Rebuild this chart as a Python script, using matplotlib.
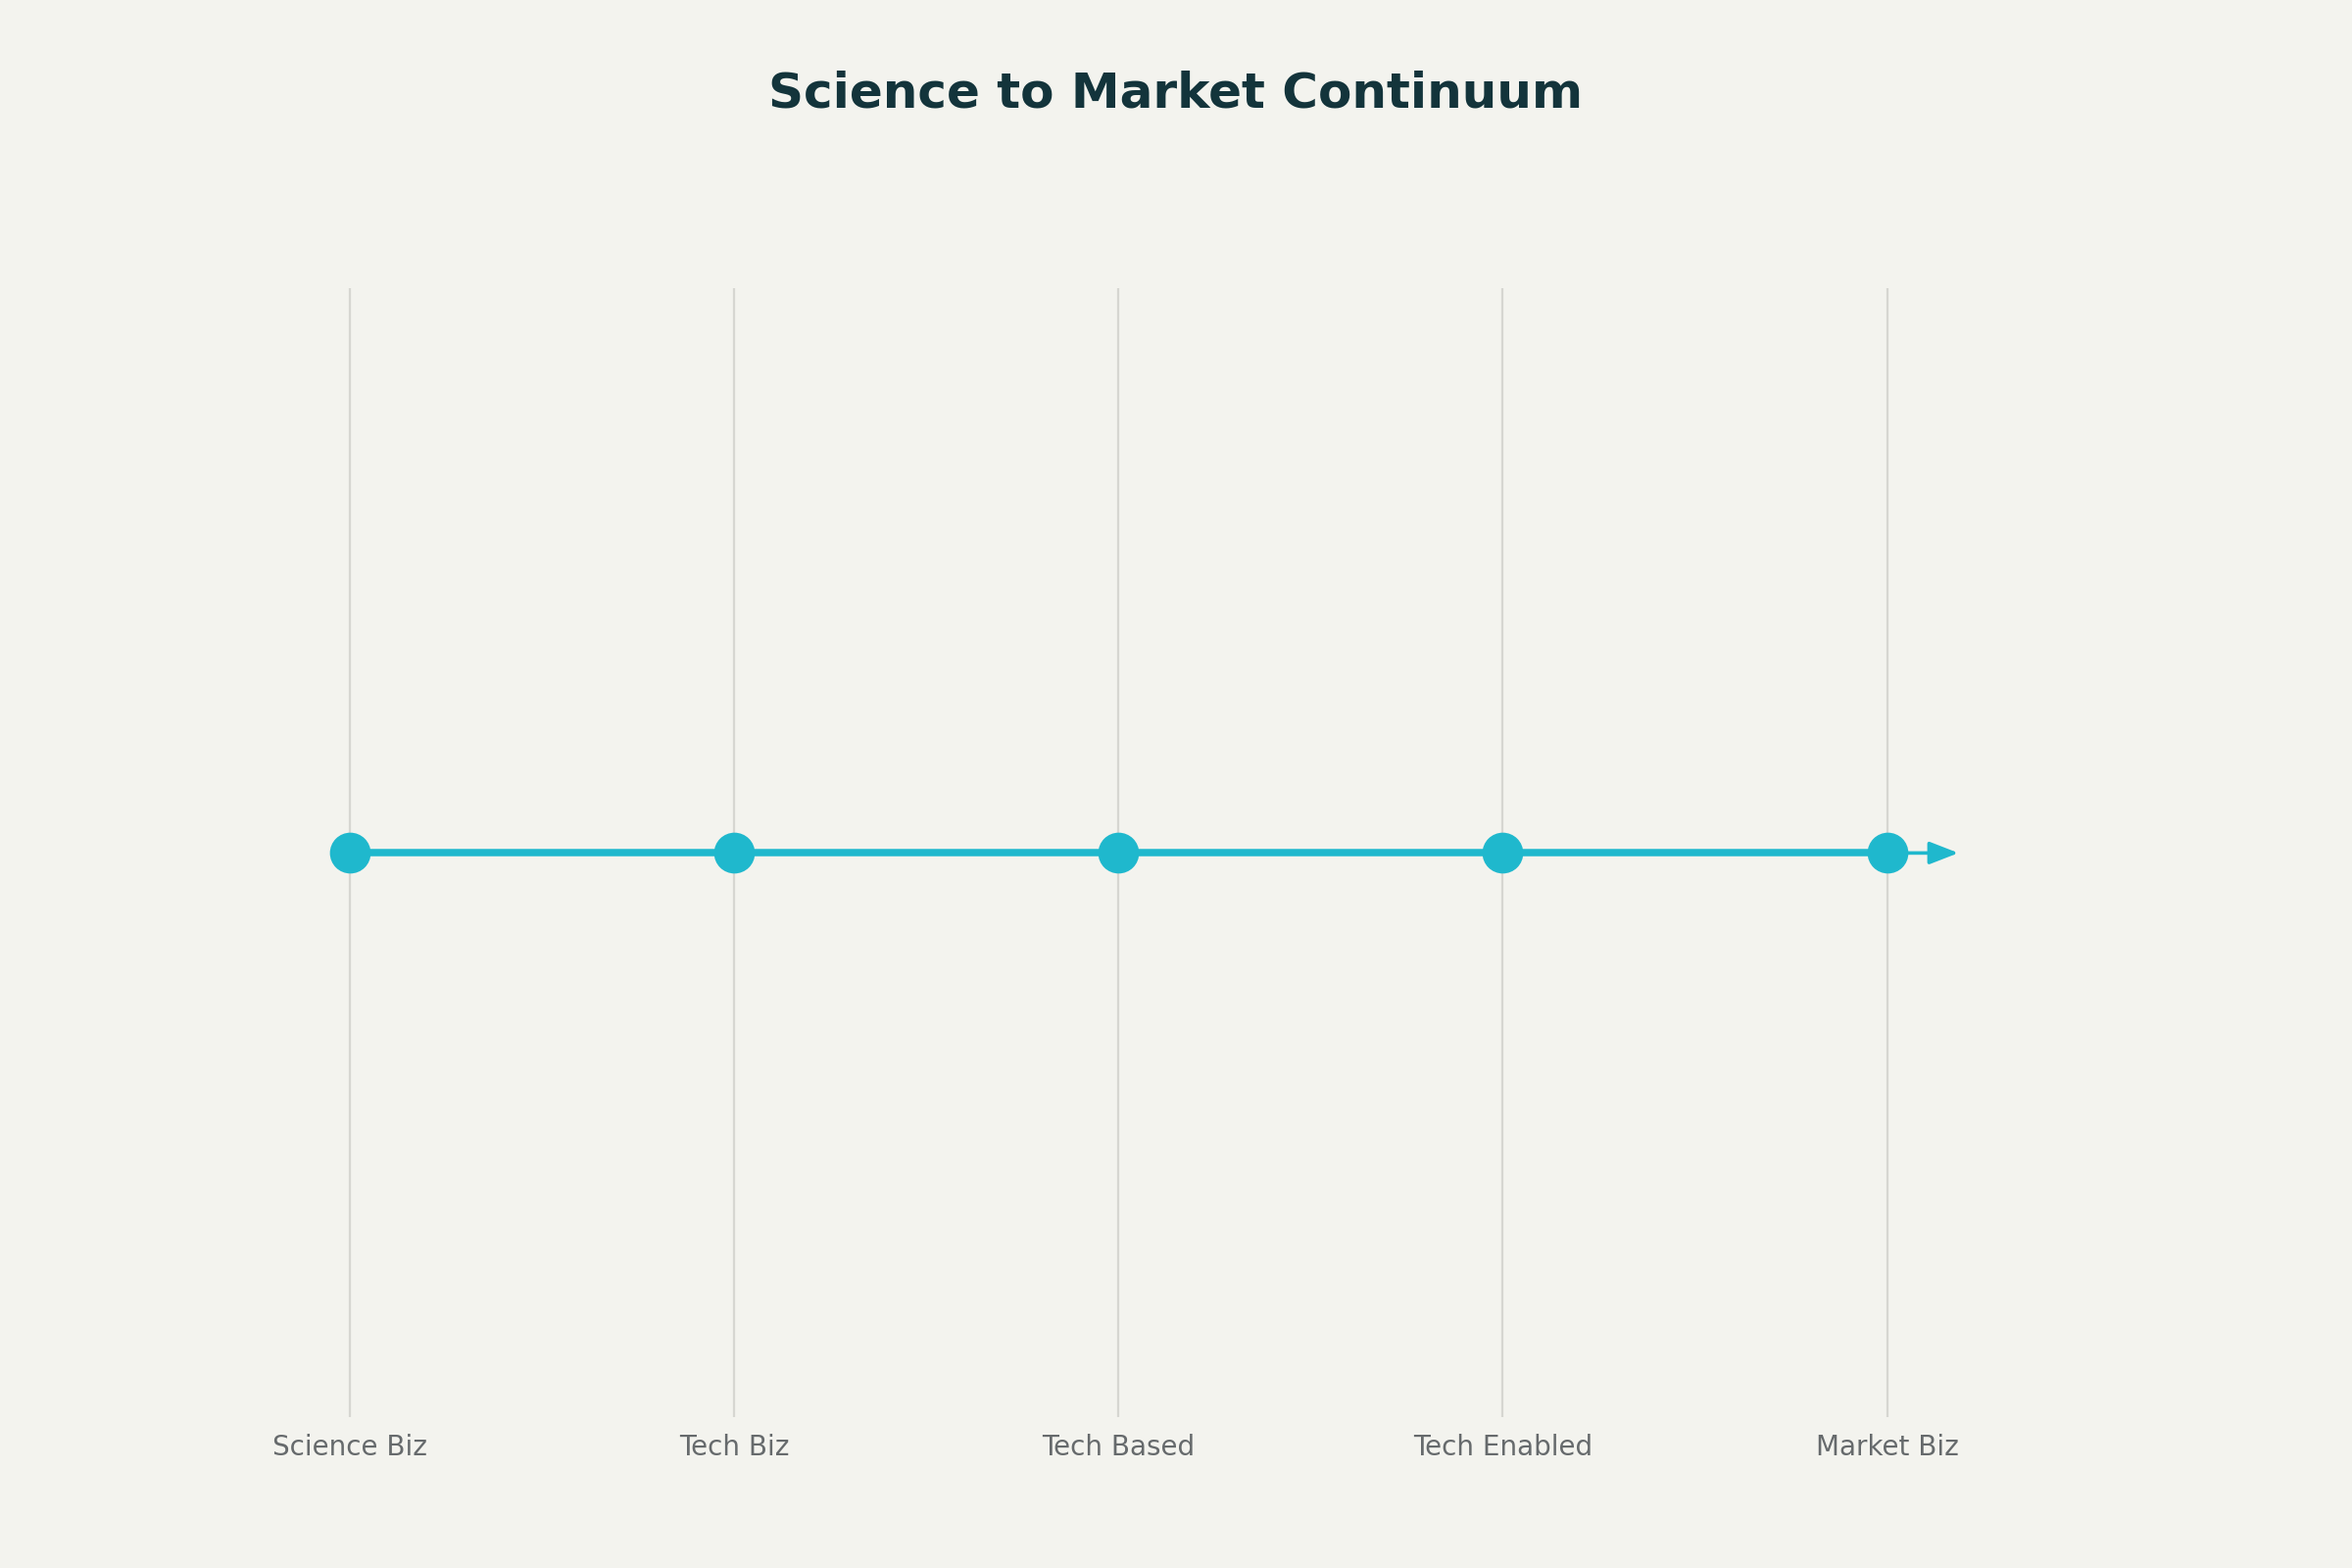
import matplotlib
matplotlib.use("Agg")
import matplotlib.pyplot as plt

stages = ["Science Biz", "Tech Biz", "Tech Based", "Tech Enabled", "Market Biz"]
level = [0, 0, 0, 0, 0]
arrow_end = 4.2

teal = "#1FB8CD"
bg = "#F3F3EE"

fig = plt.figure(figsize=(12, 8), dpi=200, facecolor=bg)
ax = fig.add_axes([0.067, 0.096, 0.817, 0.72], facecolor=bg)
x = list(range(len(stages)))
for xi in x:
    ax.axvline(xi, color="#D6D6D1", lw=0.8, zorder=0)
ax.plot(x, level, color=teal, lw=2.7, marker="o", markersize=14, zorder=3)
ax.annotate("", xy=(arrow_end, 0), xytext=(x[-1], 0),
            arrowprops=dict(arrowstyle="-|>,head_length=0.9,head_width=0.35",
                            color=teal, lw=1.3), zorder=2)
ax.set_xlim(-0.5, 4.5)
ax.set_ylim(-1, 1)
ax.set_xticks(x)
ax.set_xticklabels(stages, fontsize=10, color="#666A6C")
ax.tick_params(axis="x", length=0, pad=6)
ax.set_yticks([])
for s in ax.spines.values():
    s.set_visible(False)
fig.text(0.5, 0.94, "Science to Market Continuum", ha="center", va="center",
         fontsize=18, fontweight="bold", color="#13343B")
fig.savefig("out.png", facecolor=bg)
